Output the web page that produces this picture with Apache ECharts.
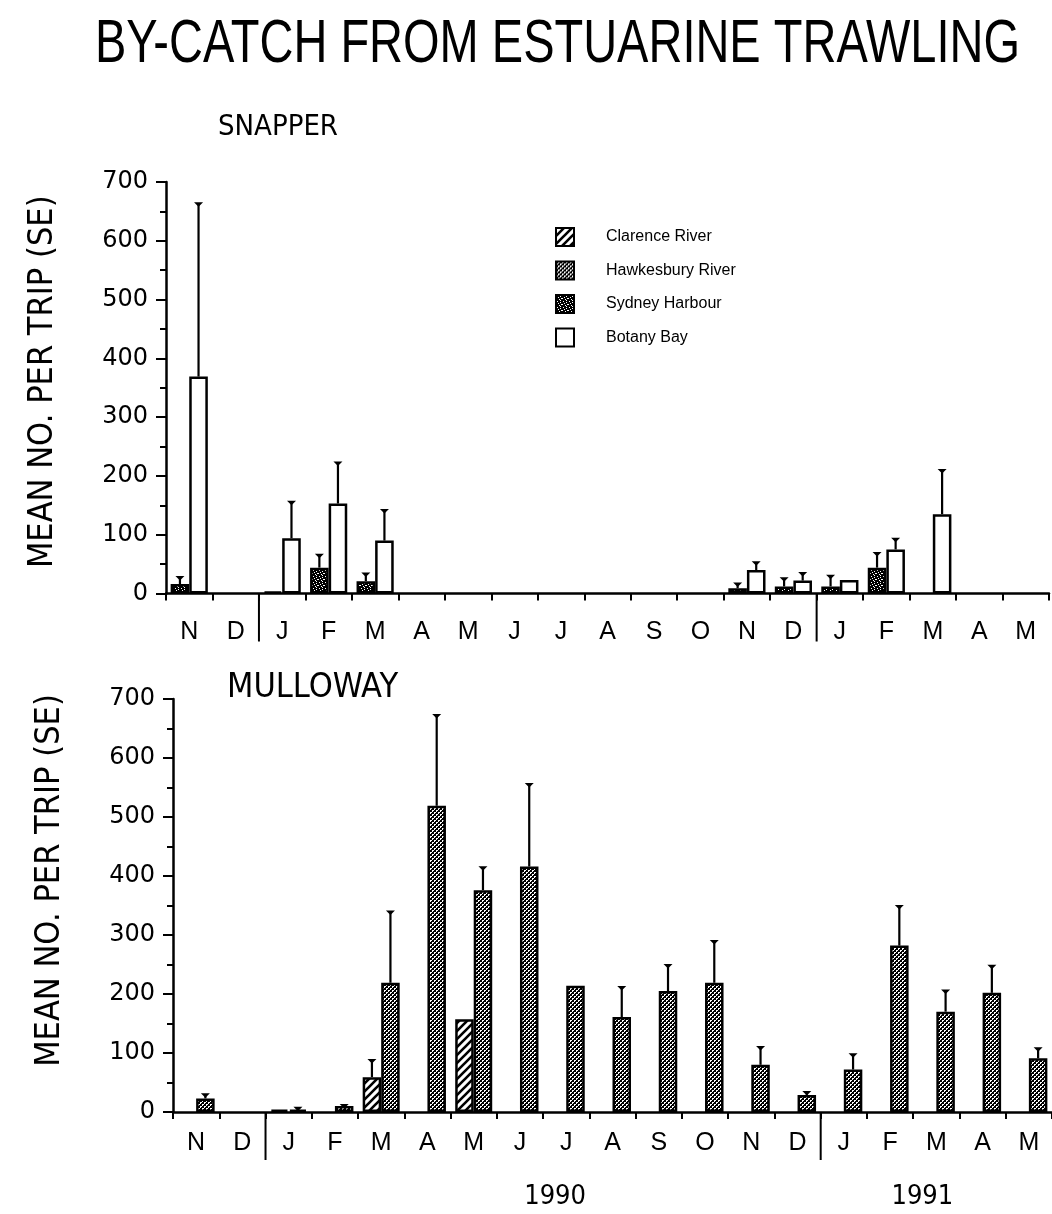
<!DOCTYPE html>
<html><head><meta charset="utf-8">
<script src="https://cdn.jsdelivr.net/npm/echarts@6/dist/echarts.min.js"></script>
<style>html,body{margin:0;padding:0;background:#fff}#c{width:1052px;height:1214px}</style>
</head><body><div id="c"></div>
<script>
// ---------- DATA ----------
const months = ['N','D','J','F','M','A','M','J','J','A','S','O','N','D','J','F','M','A','M'];
const yearLabels = ['1990', '1991'];
const yearSpans = [[2, 13], [14, 18]];
const yearDividers = [2, 14];
const seriesNames = ['Clarence River', 'Hawkesbury River', 'Sydney Harbour', 'Botany Bay'];
const mainTitle = 'BY-CATCH FROM ESTUARINE TRAWLING';
const panelTitles = ['SNAPPER', 'MULLOWAY'];
const yAxisTitle = 'MEAN NO. PER TRIP (SE)';
const yMin = 0, yMax = 700, yStep = 100;

// SNAPPER
const snapperSydney   = [16, null, 3, 44, 21, null, null, null, null, null, null, null, 9, 12, 12, 44, null, null, null];
const snapperSydneySE = [28, null, null, 66, 34, null, null, null, null, null, null, null, 17, 26, 30, 69, null, null, null];
const snapperBotany   = [369, null, 94, 153, 90, null, null, null, null, null, null, null, 40, 22, 23, 75, 135, null, null];
const snapperBotanySE = [664, null, 156, 223, 142, null, null, null, null, null, null, null, 53, 35, null, 93, 210, null, null];

// MULLOWAY
const mullowayClarence     = [null, null, 4, null, 59, null, 157, null, null, null, null, null, null, null, null, null, null, null, null];
const mullowayClarenceSE   = [null, null, null, null, 88, null, null, null, null, null, null, null, null, null, null, null, null, null, null];
const mullowayHawkesbury   = [23, null, 4, 10, 219, 519, 376, 416, 214, 161, 205, 219, 80, 29, 72, 282, 170, 202, 91];
const mullowayHawkesburySE = [30, null, 7, 12, 340, 673, 415, 556, null, 212, 249, 290, 110, 34, 98, 349, 206, 248, 108];

// ---------- FONTS ----------
function hasFont(name) {
  const g = document.createElement('canvas').getContext('2d');
  const s = 'BY-CATCH FROM ESTUARINE TRAWLING mmmwwwiii';
  g.font = '40px monospace'; const a = g.measureText(s).width;
  g.font = '40px "' + name + '", monospace'; const b = g.measureText(s).width;
  return Math.abs(a - b) > 1;
}
const FONT = '"Liberation Sans", Arial, sans-serif';
let NARROW = FONT, narrowScale = 0.76;
if (hasFont('Liberation Sans Narrow')) { NARROW = '"Liberation Sans Narrow", sans-serif'; narrowScale = 1; }
else if (hasFont('DejaVu Sans Condensed')) { NARROW = '"DejaVu Sans Condensed", sans-serif'; narrowScale = 0.86; }
const ns = v => Math.round(v * narrowScale);
function textWidth(text, font) {
  const g = document.createElement('canvas').getContext('2d'); g.font = font; return g.measureText(text).width;
}

// ---------- PATTERNS ----------
function tile(w, h, bg, draw) {
  const c = document.createElement('canvas'); c.width = w; c.height = h;
  const g = c.getContext('2d'); g.fillStyle = bg; g.fillRect(0, 0, w, h); draw(g); return c;
}
const hatchTile = tile(8, 8, '#fff', g => {
  g.strokeStyle = '#000'; g.lineWidth = 2.6; g.beginPath();
  for (const o of [-8, 0, 8]) { g.moveTo(o - 1, 9); g.lineTo(o + 9, -1); }
  g.stroke();
});
const weaveTile = tile(4, 4, '#fff', g => {
  g.fillStyle = '#000';
  for (let x = 0; x < 4; x++) for (let y = 0; y < 4; y++)
    if ((x + y) % 4 === 0 || (x - y + 4) % 4 === 0 || (x + y) % 4 === 1) g.fillRect(x, y, 1, 1);
});
const stippleTile = tile(6, 6, '#000', g => {
  g.fillStyle = '#fff';
  [[1,0],[4,1],[0,3],[3,4],[5,3],[2,2],[4,5]].forEach(p => g.fillRect(p[0], p[1], 1, 1));
});
const fills = {
  'Clarence River': { image: hatchTile, repeat: 'repeat' },
  'Hawkesbury River': { image: weaveTile, repeat: 'repeat' },
  'Sydney Harbour': { image: stippleTile, repeat: 'repeat' },
  'Botany Bay': '#ffffff'
};

// ---------- HELPERS ----------
function bar(name, data, axis) {
  return {
    type: 'bar', name, data, xAxisIndex: axis, yAxisIndex: axis,
    barWidth: '40%', barGap: '0%', silent: true,
    itemStyle: { color: fills[name], borderColor: '#000', borderWidth: 2.5 }
  };
}
function errData(vals, ses) {
  const out = [];
  vals.forEach((v, i) => { if (v != null && ses[i] != null) out.push([i, v, ses[i]]); });
  return out;
}
function errSeries(vals, ses, slot, axis) {
  return {
    type: 'custom', xAxisIndex: axis, yAxisIndex: axis, silent: true, z: 5,
    data: errData(vals, ses), encode: { x: 0, y: 2 },
    renderItem(params, api) {
      const i = api.value(0), v = api.value(1), t = api.value(2);
      const band = api.size([1, 0])[0];
      const x = api.coord([i, 0])[0] + slot * 0.2 * band;
      const y0 = api.coord([i, v])[1], y1 = api.coord([i, t])[1];
      return { type: 'group', children: [
        { type: 'line', shape: { x1: x, y1: y0, x2: x, y2: y1 }, style: { stroke: '#000', lineWidth: 2.2 } },
        { type: 'polygon', shape: { points: [[x - 4.5, y1 - 1], [x + 4.5, y1 - 1], [x, y1 + 3.5]] }, style: { fill: '#000' } }
      ]};
    }
  };
}
function dividerSeries(axis) {
  return {
    type: 'custom', xAxisIndex: axis, yAxisIndex: axis, silent: true, clip: false,
    data: yearDividers.map(i => [i, 0]),
    renderItem(params, api) {
      const i = api.value(0);
      const band = api.size([1, 0])[0];
      const x = api.coord([i, 0])[0] - band / 2;
      const y = api.coord([i, 0])[1];
      return { type: 'line', shape: { x1: x, y1: y, x2: x, y2: y + 48 }, style: { stroke: '#000', lineWidth: 2 } };
    }
  };
}
function yearSeries(axis) {
  return {
    type: 'custom', xAxisIndex: axis, yAxisIndex: axis, silent: true, clip: false,
    data: yearSpans.map((s, k) => [s[0], s[1], k]),
    renderItem(params, api) {
      const a = api.value(0), b = api.value(1), k = api.value(2);
      const band = api.size([1, 0])[0];
      const x = (api.coord([a, 0])[0] - band / 2 + api.coord([b, 0])[0] + band / 2) / 2;
      const y = api.coord([a, 0])[1];
      return { type: 'text', x: x + (k === 1 ? -14 : 12), y: y + 85,
        style: { text: yearLabels[k], fill: '#000', font: ns(31) + 'px ' + NARROW, align: 'center', verticalAlign: 'middle' } };
    }
  };
}
function xAxis(grid, margin) {
  return {
    type: 'category', gridIndex: grid, data: months, boundaryGap: true,
    axisLine: { show: true, lineStyle: { color: '#000', width: 2.5 } },
    axisTick: { show: true, alignWithLabel: false, length: 7, lineStyle: { color: '#000', width: 2 } },
    axisLabel: { color: '#000', fontSize: 25, fontFamily: FONT, margin: margin, interval: 0 },
    splitLine: { show: false }
  };
}
function yAxis(grid, shift) {
  return {
    type: 'value', gridIndex: grid, min: yMin, max: yMax, interval: yStep,
    name: yAxisTitle, nameLocation: 'middle', nameRotate: 90, nameGap: 106,
    nameTextStyle: { color: '#000', fontSize: ns(39), fontFamily: NARROW, padding: [0, 0, 0, shift] },
    axisLine: { show: true, lineStyle: { color: '#000', width: 2.5 } },
    axisTick: { show: true, length: 10, lineStyle: { color: '#000', width: 2 } },
    minorTick: { show: true, splitNumber: 2, length: 6, lineStyle: { color: '#000', width: 2 } },
    axisLabel: { color: '#000', fontSize: 24, fontFamily: '"DejaVu Sans", sans-serif', margin: 18 },
    splitLine: { show: false }
  };
}

// main title: condensed to the reference's width
const titleFont = '62px ' + FONT;
const titleScaleX = 925 / textWidth(mainTitle, titleFont);

const chart = echarts.init(document.getElementById('c'), null, { renderer: 'canvas' });
chart.setOption({
  backgroundColor: '#fff',
  animation: false,
  graphic: [
    { type: 'text', left: 95, top: 14, scaleX: titleScaleX, originX: 0,
      style: { text: mainTitle, font: titleFont, fill: '#000' } }
  ],
  title: [
    { text: panelTitles[0], left: 213, top: 108, textStyle: { fontSize: ns(34), fontWeight: 'normal', color: '#000', fontFamily: NARROW } },
    { text: panelTitles[1], left: 222, top: 666, textStyle: { fontSize: ns(39), fontWeight: 'normal', color: '#000', fontFamily: NARROW } }
  ],
  legend: {
    data: seriesNames, orient: 'vertical', left: 555, top: 227, padding: 0,
    itemWidth: 18, itemHeight: 18, itemGap: 13.5,
    icon: 'rect', selectedMode: false,
    itemStyle: { borderColor: '#000', borderWidth: 2 },
    textStyle: { color: '#000', fontSize: 16, fontFamily: FONT, padding: [0, 0, 0, 27] }
  },
  grid: [
    { left: 166, top: 182, width: 883, height: 411.5 },
    { left: 173, top: 699, width: 882, height: 413 }
  ],
  xAxis: [xAxis(0, 26), xAxis(1, 19)],
  yAxis: [yAxis(0, 12), yAxis(1, 50)],
  series: [
    bar('Sydney Harbour', snapperSydney, 0),
    bar('Botany Bay', snapperBotany, 0),
    bar('Clarence River', mullowayClarence, 1),
    bar('Hawkesbury River', mullowayHawkesbury, 1),
    errSeries(snapperSydney, snapperSydneySE, -1, 0),
    errSeries(snapperBotany, snapperBotanySE, 1, 0),
    errSeries(mullowayClarence, mullowayClarenceSE, -1, 1),
    errSeries(mullowayHawkesbury, mullowayHawkesburySE, 1, 1),
    dividerSeries(0), dividerSeries(1), yearSeries(1)
  ]
});
</script></body></html>
